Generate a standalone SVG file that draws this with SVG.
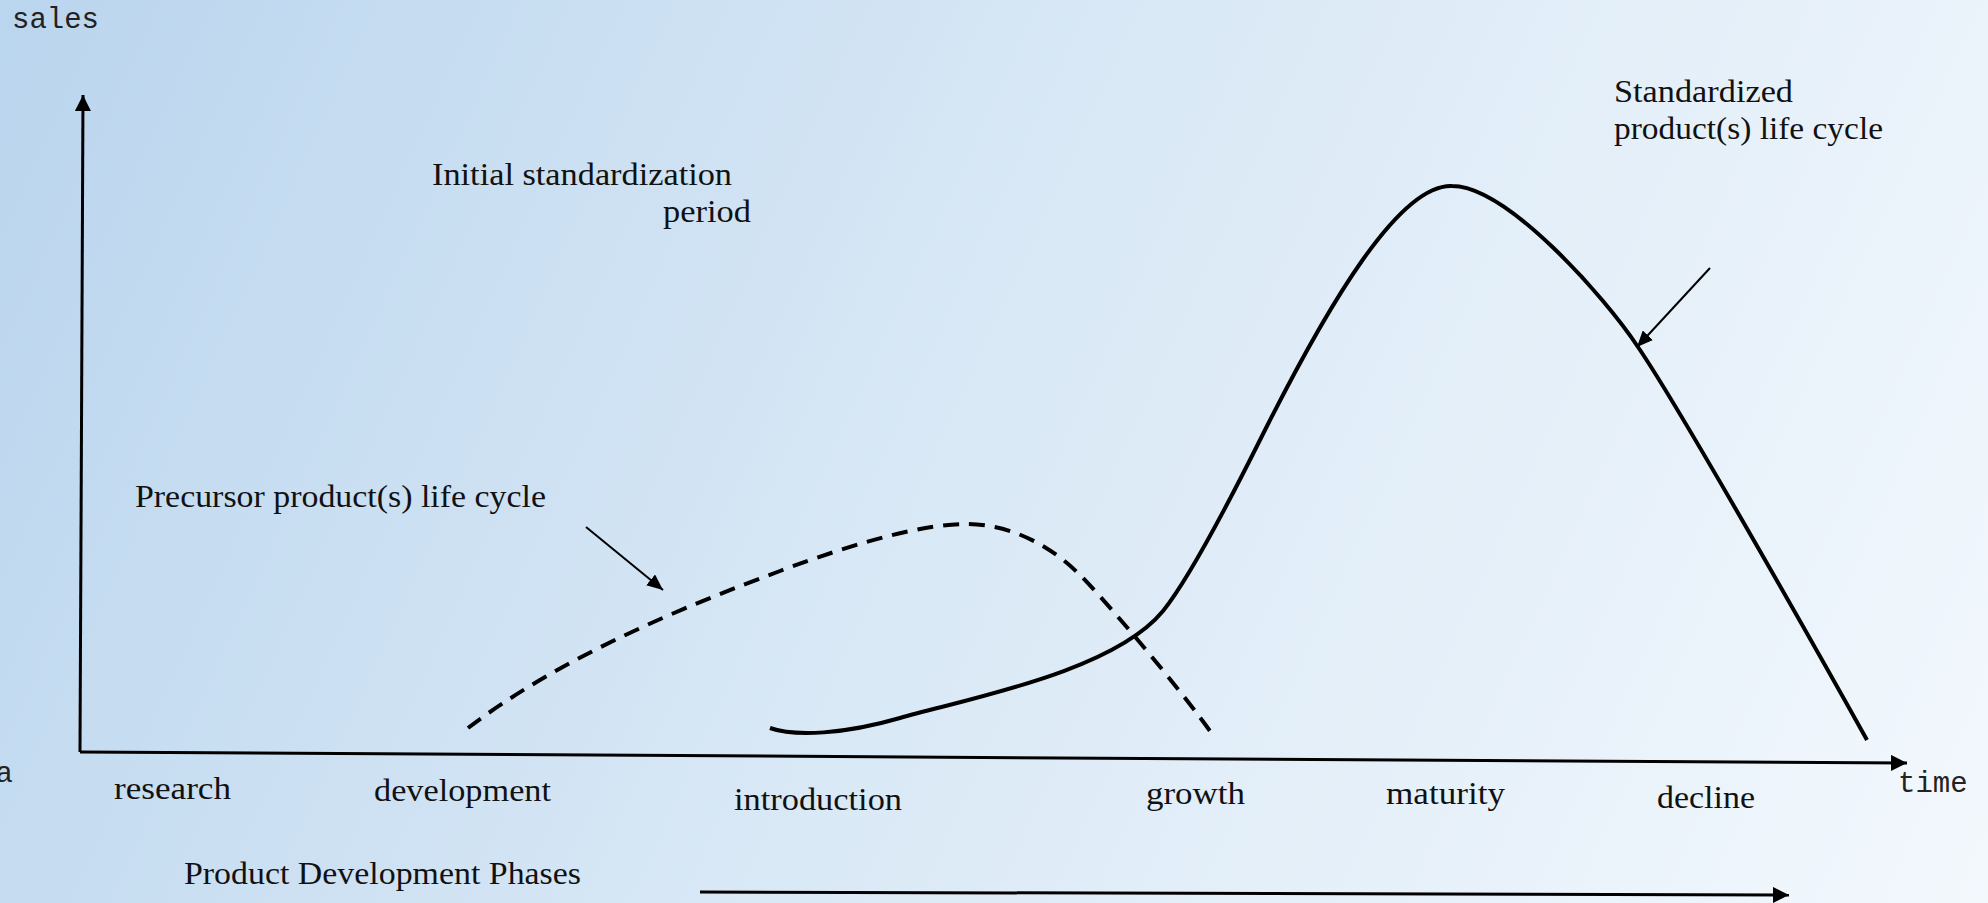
<svg xmlns="http://www.w3.org/2000/svg" width="1988" height="903" viewBox="0 0 1988 903">
  <defs>
    <linearGradient id="bg" gradientUnits="userSpaceOnUse" x1="0" y1="0" x2="1988" y2="903">
      <stop offset="0" stop-color="#bad5ee"/>
      <stop offset="0.5" stop-color="#dae9f6"/>
      <stop offset="1" stop-color="#f3f8fd"/>
    </linearGradient>
    <marker id="ahBig" markerUnits="userSpaceOnUse" markerWidth="16" markerHeight="16" viewBox="0 0 16 16" refX="16" refY="8" orient="auto">
      <path d="M0,0 L16,8 L0,16 z" fill="#000"/>
    </marker>
    <marker id="ahSmall" markerUnits="userSpaceOnUse" markerWidth="16" markerHeight="14" viewBox="0 0 16 14" refX="16" refY="7" orient="auto">
      <path d="M0,0 L16,7 L0,14 z" fill="#000"/>
    </marker>
  </defs>
  <style>
    .lbl { font-family: "Liberation Serif", "DejaVu Serif", serif; font-size: 32px; fill: #111; }
    .mono { font-family: "Liberation Mono", "Courier New", monospace; font-size: 29px; fill: #222; }
    .axis { stroke: #000; stroke-width: 3; fill: none; }
    .ptr { stroke: #000; stroke-width: 2; fill: none; }
    .curve { stroke: #000; stroke-width: 4; fill: none; stroke-linecap: butt; }
    .dash { stroke-dasharray: 16 10; }
  </style>
  <rect x="0" y="0" width="1988" height="903" fill="url(#bg)"/>

  <g id="connectors">
    <line id="y-axis" class="axis" x1="80" y1="752" x2="83" y2="95" marker-end="url(#ahBig)"/>
    <line id="x-axis" class="axis" x1="80" y1="752" x2="1907" y2="763" marker-end="url(#ahBig)"/>
    <line id="phase-arrow" class="axis" x1="700" y1="892" x2="1789" y2="895" marker-end="url(#ahBig)"/>
    <line id="precursor-pointer" class="ptr" x1="586" y1="527" x2="663" y2="590" marker-end="url(#ahSmall)"/>
    <line id="standardized-pointer" class="ptr" x1="1710" y1="268" x2="1637" y2="347" marker-end="url(#ahSmall)"/>
  </g>

  <g id="precursor-curve">
    <path class="curve dash" d="M468,728 C560,658 680,608 780,571 C860,541 925,524 966,524 C1010,524 1050,545 1080,575 C1105,600 1180,688 1215,738"/>
  </g>

  <g id="standardized-curve">
    <path class="curve" d="M770,728 C795,737 845,734 900,718 C966,699 1113,672 1163,611 C1188,580 1225,510 1260,440 C1330,300 1400,184 1452,186 C1507,186 1605,297 1638,347 C1683,413 1828,670 1867,740"/>
  </g>

  <g id="label-sales"><text class="mono" x="12" y="28">sales</text></g>
  <g id="label-time"><text class="mono" x="1898" y="792">time</text></g>
  <g id="label-a"><text class="mono" x="13" y="782" text-anchor="end">a</text></g>

  <g id="label-initial">
    <text class="lbl" x="432" y="185" textLength="300" lengthAdjust="spacingAndGlyphs">Initial standardization</text>
    <text class="lbl" x="663" y="222" textLength="88" lengthAdjust="spacingAndGlyphs">period</text>
  </g>
  <g id="label-standardized">
    <text class="lbl" x="1614" y="102" textLength="179" lengthAdjust="spacingAndGlyphs">Standardized</text>
    <text class="lbl" x="1614" y="139" textLength="269" lengthAdjust="spacingAndGlyphs">product(s) life cycle</text>
  </g>
  <g id="label-precursor">
    <text class="lbl" x="135" y="507" textLength="411" lengthAdjust="spacingAndGlyphs">Precursor product(s) life cycle</text>
  </g>

  <g id="phase-research"><text class="lbl" x="114" y="799" textLength="117" lengthAdjust="spacingAndGlyphs">research</text></g>
  <g id="phase-development"><text class="lbl" x="374" y="801" textLength="177" lengthAdjust="spacingAndGlyphs">development</text></g>
  <g id="phase-introduction"><text class="lbl" x="734" y="810" textLength="168" lengthAdjust="spacingAndGlyphs">introduction</text></g>
  <g id="phase-growth"><text class="lbl" x="1146" y="804" textLength="99" lengthAdjust="spacingAndGlyphs">growth</text></g>
  <g id="phase-maturity"><text class="lbl" x="1386" y="804" textLength="119" lengthAdjust="spacingAndGlyphs">maturity</text></g>
  <g id="phase-decline"><text class="lbl" x="1657" y="808" textLength="98" lengthAdjust="spacingAndGlyphs">decline</text></g>
  <g id="label-phases"><text class="lbl" x="184" y="884" textLength="397" lengthAdjust="spacingAndGlyphs">Product Development Phases</text></g>
</svg>
